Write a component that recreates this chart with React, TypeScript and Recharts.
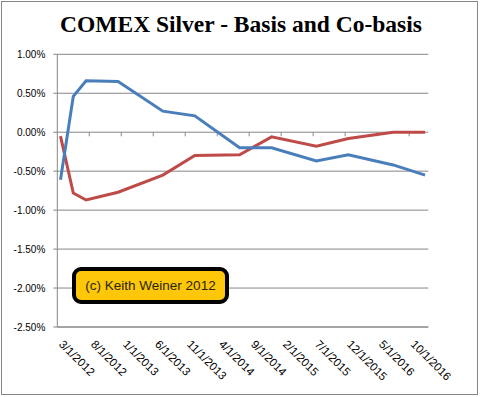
import React from 'react';
import { LineChart, Line, XAxis, YAxis, CartesianGrid, ReferenceLine } from 'recharts';

// Data point dates (contract months)
const pointDates = [
  '3/1/2012', '5/1/2012', '7/1/2012', '12/1/2012', '7/1/2013', '12/1/2013',
  '7/1/2014', '12/1/2014', '7/1/2015', '12/1/2015', '7/1/2016', '12/1/2016',
];
// Basis (blue), percent
const basis = [-0.61, 0.46, 0.66, 0.65, 0.27, 0.21, -0.2, -0.2, -0.37, -0.29, -0.42, -0.55];
// Co-basis (red), percent
const cobasis = [-0.05, -0.78, -0.87, -0.77, -0.55, -0.3, -0.29, -0.06, -0.18, -0.08, 0.0, 0.0];

// Axis tick labels (date axis, major unit 5 months)
const xTickLabels = [
  '3/1/2012', '8/1/2012', '1/1/2013', '6/1/2013', '11/1/2013', '4/1/2014',
  '9/1/2014', '2/1/2015', '7/1/2015', '12/1/2015', '5/1/2016', '10/1/2016',
];
const yTicks = [1.0, 0.5, 0.0, -0.5, -1.0, -1.5, -2.0, -2.5];

const BASE_YEAR = 2012;
const BASE_MONTH = 3;
const monthIndex = (d: string) => {
  const [m, , y] = d.split('/').map(Number);
  return (y - BASE_YEAR) * 12 + (m - BASE_MONTH);
};

const data = pointDates.map((d, i) => ({
  t: monthIndex(d),
  basis: basis[i],
  cobasis: cobasis[i],
}));

// Date axis: ticks sit between "month slots" (half a month before each labelled month)
const xTicks = xTickLabels.map((d) => monthIndex(d) - 0.5);
const lastT = monthIndex(pointDates[pointDates.length - 1]);
const xDomain = [-0.5, lastT + 0.5];

const GRID = '#868686';
const FONT = '"Liberation Sans", Arial, sans-serif';

const XTick = (props: any) => {
  const { x, y, index } = props;
  const ax = x + 1;
  const ay = y + 18;
  return (
    <text
      x={ax}
      y={ay}
      transform={`rotate(45, ${ax}, ${ay})`}
      textAnchor="start"
      fontSize={11.5}
      fontFamily={FONT}
      fill="#000"
    >
      {xTickLabels[index]}
    </text>
  );
};

export default function App() {
  return (
    <div style={{ position: 'absolute', left: 0, top: 0, width: 482, height: 397, background: '#fff' }}>
      <div
        style={{
          position: 'absolute',
          left: 1,
          top: 1,
          width: 477,
          height: 394,
          boxSizing: 'border-box',
          border: `1px solid ${GRID}`,
        }}
      />
      <div
        style={{
          position: 'absolute',
          left: 0,
          width: 482,
          top: 12.6,
          textAlign: 'center',
          fontFamily: '"Liberation Serif", "Times New Roman", serif',
          fontWeight: 'bold',
          fontSize: 23.5,
          lineHeight: '23.5px',
          color: '#000',
          whiteSpace: 'nowrap',
        }}
      >
        COMEX Silver - Basis and Co-basis
      </div>
      <div style={{ position: 'absolute', left: 0, top: 0 }}>
        <LineChart
          width={482}
          height={397}
          data={data}
          margin={{ top: 54.3, right: 53.7, bottom: 10, left: 7.3 }}
        >
          <CartesianGrid horizontal vertical={false} stroke={GRID} strokeWidth={1} strokeDasharray="" />
          <XAxis
            dataKey="t"
            type="number"
            domain={xDomain}
            ticks={xTicks}
            interval={0}
            height={60}
            axisLine={{ stroke: GRID }}
            tickLine={false}
            tickSize={0}
            tickMargin={0}
            tick={<XTick />}
            allowDataOverflow
          />
          <YAxis
            type="number"
            domain={[-2.5, 1]}
            ticks={yTicks}
            interval={0}
            width={50}
            axisLine={{ stroke: GRID }}
            tickLine={{ stroke: GRID }}
            tickSize={4}
            tickMargin={8}
            tickFormatter={(v: number) => `${v.toFixed(2)}%`}
            tick={{ fontSize: 10, fontFamily: FONT, fill: '#000' }}
          />
          {xTicks.slice(1).map((t) => (
            <ReferenceLine
              key={t}
              segment={[{ x: t, y: 0 }, { x: t, y: -0.052 }]}
              stroke={GRID}
              strokeWidth={1}
              ifOverflow="visible"
            />
          ))}
          <Line
            type="linear"
            dataKey="cobasis"
            stroke="#BE4B48"
            strokeWidth={3}
            dot={false}
            isAnimationActive={false}
          />
          <Line
            type="linear"
            dataKey="basis"
            stroke="#4A7EBB"
            strokeWidth={3}
            dot={false}
            isAnimationActive={false}
          />
        </LineChart>
      </div>
      <div
        style={{
          position: 'absolute',
          left: 72,
          top: 267,
          width: 157,
          height: 37,
          boxSizing: 'border-box',
          border: '4px solid #000',
          borderRadius: 9,
          background: '#FFC709',
          display: 'flex',
          alignItems: 'center',
          justifyContent: 'center',
          fontFamily: FONT,
          fontSize: 13.5,
          color: '#262600',
          whiteSpace: 'nowrap',
        }}
      >
        (c) Keith Weiner 2012
      </div>
    </div>
  );
}
